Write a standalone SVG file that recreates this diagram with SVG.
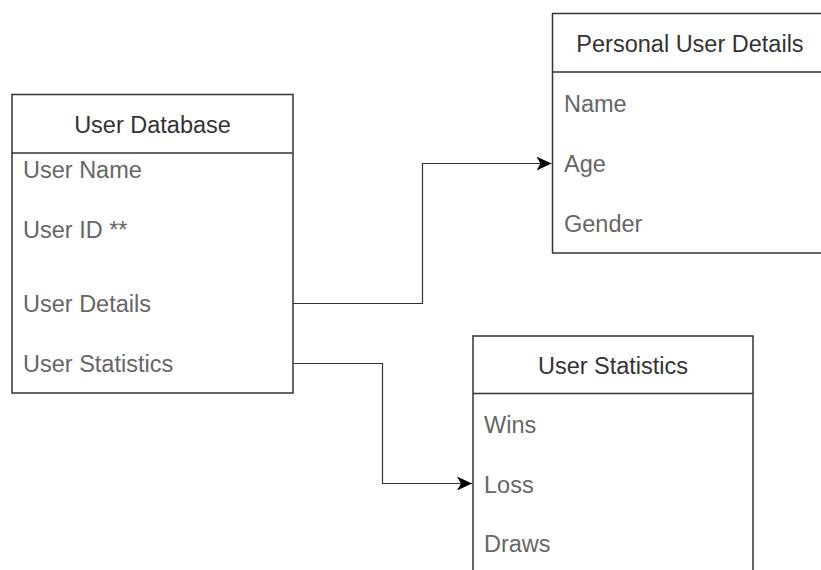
<svg xmlns="http://www.w3.org/2000/svg" width="821" height="570" viewBox="0 0 821 570">
<style>
.box{fill:#ffffff;stroke:#333333;stroke-width:1.5}
.sep{stroke:#333333;stroke-width:1.5}
.hdr{font-family:"Liberation Sans",Arial,sans-serif;font-size:23.5px;fill:#333333;text-anchor:middle}
.row{font-family:"Liberation Sans",Arial,sans-serif;font-size:23.5px;fill:#666666}
.conn{fill:none;stroke:#333333;stroke-width:1.2}
</style>
<defs>
<marker id="arr" markerUnits="userSpaceOnUse" markerWidth="18" markerHeight="18" refX="15" refY="9" orient="auto">
<path d="M0,2 L15,9 L0,16 L4,9 Z" fill="#000000"/>
</marker>
</defs>
<g id="user-database">
<rect class="box" x="12" y="94.5" width="281" height="298.5"/>
<line class="sep" x1="12" y1="153" x2="293" y2="153"/>
<text class="hdr" x="152.5" y="133">User Database</text>
<text class="row" x="23" y="178">User Name</text>
<text class="row" x="23" y="238">User ID **</text>
<text class="row" x="23" y="312">User Details</text>
<text class="row" x="23" y="372">User Statistics</text>
</g>
<g id="personal-user-details">
<rect class="box" x="552.5" y="13.5" width="280" height="239.5"/>
<line class="sep" x1="552.5" y1="72" x2="832" y2="72"/>
<text class="hdr" x="690" y="52">Personal User Details</text>
<text class="row" x="564" y="112">Name</text>
<text class="row" x="564" y="172">Age</text>
<text class="row" x="564" y="232">Gender</text>
</g>
<g id="user-statistics">
<rect class="box" x="473" y="336" width="280" height="250"/>
<line class="sep" x1="473" y1="393.5" x2="753" y2="393.5"/>
<text class="hdr" x="613" y="374">User Statistics</text>
<text class="row" x="484" y="433">Wins</text>
<text class="row" x="484" y="493">Loss</text>
<text class="row" x="484" y="552">Draws</text>
</g>
<g id="connectors">
<path class="conn" d="M293,303.5 H422.5 V163.5 H551.5" marker-end="url(#arr)"/>
<path class="conn" d="M293,363.5 H382.5 V483.5 H472" marker-end="url(#arr)"/>
</g>
</svg>
